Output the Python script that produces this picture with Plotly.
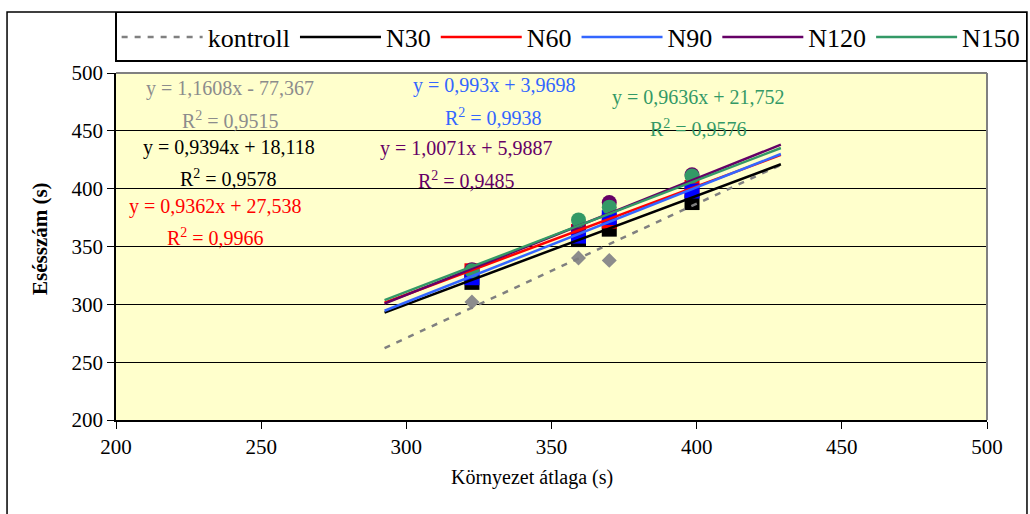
import plotly.graph_objects as go

# Mean of the surroundings (s) for the four sampling sites
kornyezet = [322.6, 359.3, 369.9, 398.4]

series_names = ["kontroll", "N30", "N60", "N90", "N120", "N150"]

# Falling number (s) per treatment
kontroll = [302, 340, 338, 393]
n30 = [319, 356, 365, 388]
n60 = [329, 363, 372, 401]
n90 = [323, 359, 375, 398]
n120 = [330, 366, 388, 412]
n150 = [329, 373, 384, 411]

# Linear trend lines: y = slope * x + intercept
slopes = [1.1608, 0.9394, 0.9362, 0.993, 1.0071, 0.9636]
intercepts = [-77.367, 18.118, 27.538, 3.9698, 5.9887, 21.752]
r_squared = [0.9515, 0.9578, 0.9966, 0.9938, 0.9485, 0.9576]
trend_range = [292.5, 429.0]

# Equation label anchors (data coordinates)
eq_pos = [(239.3, 486.2), (238.9, 435.2), (234.4, 385.0),
          (330.2, 488.8), (320.6, 434.3), (400.5, 478.4)]
r2_pos = [(239.3, 459.4), (238.9, 409.2), (234.4, 358.2),
          (329.9, 462.0), (320.6, 407.5), (400.5, 452.4)]

x_ticks = [200, 250, 300, 350, 400, 450, 500]
y_ticks = [200, 250, 300, 350, 400, 450, 500]

values = [kontroll, n30, n60, n90, n120, n150]
line_colors = ["#808080", "#000000", "#FF0000", "#3366FF", "#660066", "#339966"]
marker_colors = ["#8C8C8C", "#000000", "#FF0000", "#0000FF", "#660066", "#339966"]
label_colors = ["#8C8C8C", "#000000", "#FF0000", "#3366FF", "#660066", "#339966"]
symbols = ["diamond", "square", "square", "square", "circle", "circle"]
sizes = [11.5, 15, 15, 15, 15, 15]

SERIF = "Liberation Serif"


def comma(v):
    return repr(v).replace(".", ",")


def equation(m, b):
    sign = "-" if b < 0 else "+"
    return f"y = {comma(m)}x {sign} {comma(abs(b))}"


fig = go.Figure()

# Measured points
for name, ys, col, sym, sz in zip(series_names, values, marker_colors, symbols, sizes):
    fig.add_trace(go.Scatter(
        x=kornyezet, y=ys, mode="markers", name=name, showlegend=False,
        marker=dict(symbol=sym, size=sz, color=col, line=dict(width=0)),
        hoverinfo="x+y",
    ))

# Trend lines (these carry the legend)
for i, name in enumerate(series_names):
    xs = trend_range
    ys = [slopes[i] * x + intercepts[i] for x in xs]
    fig.add_trace(go.Scatter(
        x=xs, y=ys, mode="lines", name=name,
        line=dict(color=line_colors[i], width=2.5,
                  dash="6px,7px" if i == 0 else "solid"),
    ))

# Equation and R² labels
annotations = []
for i in range(len(series_names)):
    annotations.append(dict(
        x=eq_pos[i][0], y=eq_pos[i][1], xref="x", yref="y",
        text=equation(slopes[i], intercepts[i]), showarrow=False,
        xanchor="center", yanchor="middle",
        font=dict(family=SERIF, size=20, color=label_colors[i]),
    ))
    annotations.append(dict(
        x=r2_pos[i][0], y=r2_pos[i][1], xref="x", yref="y",
        text=f"R<sup>2</sup> = {comma(r_squared[i])}", showarrow=False,
        xanchor="center", yanchor="middle",
        font=dict(family=SERIF, size=20, color=label_colors[i]),
    ))

# Axis titles
annotations.append(dict(
    x=-0.0873, y=0.5245, xref="paper", yref="paper",
    text="<b>Esésszám (s)</b>", textangle=-90, showarrow=False,
    xanchor="center", yanchor="middle",
    font=dict(family=SERIF, size=21, color="black"),
))
annotations.append(dict(
    x=0.4776, y=-0.1643, xref="paper", yref="paper",
    text="Környezet átlaga (s)", showarrow=False,
    xanchor="center", yanchor="middle",
    font=dict(family=SERIF, size=20, color="black"),
))

shapes = [
    # chart area frame
    dict(type="rect", xref="paper", yref="paper",
         x0=-0.1251, x1=1.0459, y0=-0.35, y1=1.1758,
         line=dict(color="black", width=1.5), fillcolor="rgba(0,0,0,0)", layer="below"),
    # plot area top and right border
    dict(type="line", xref="paper", yref="paper", x0=0, x1=1, y0=1, y1=1,
         line=dict(color="#808080", width=2)),
    dict(type="line", xref="paper", yref="paper", x0=1, x1=1, y0=0, y1=1,
         line=dict(color="#808080", width=2)),
]

fig.update_layout(
    width=1030, height=514,
    margin=dict(l=116, r=43, t=73, b=94),
    paper_bgcolor="white",
    plot_bgcolor="#FFFFCC",
    font=dict(family=SERIF, color="black"),
    showlegend=True,
    legend=dict(
        orientation="h", x=-0.001, y=1.1758, xanchor="left", yanchor="top",
        bgcolor="white", bordercolor="black", borderwidth=1.5,
        font=dict(family=SERIF, size=26, color="black"),
        itemwidth=81, tracegroupgap=0,
    ),
    annotations=annotations,
    shapes=shapes,
    xaxis=dict(
        range=[200, 500], tickvals=x_ticks, ticks="outside", ticklen=7,
        tickcolor="black", showgrid=False, zeroline=False,
        showline=True, linecolor="black", linewidth=1.5,
        tickfont=dict(family=SERIF, size=21, color="black"),
    ),
    yaxis=dict(
        range=[200, 500], tickvals=y_ticks, ticks="outside", ticklen=7,
        tickcolor="black", showgrid=True, gridcolor="black", gridwidth=1,
        zeroline=False, showline=True, linecolor="black", linewidth=1.5,
        tickfont=dict(family=SERIF, size=21, color="black"),
    ),
)

fig.write_html("out.html")
